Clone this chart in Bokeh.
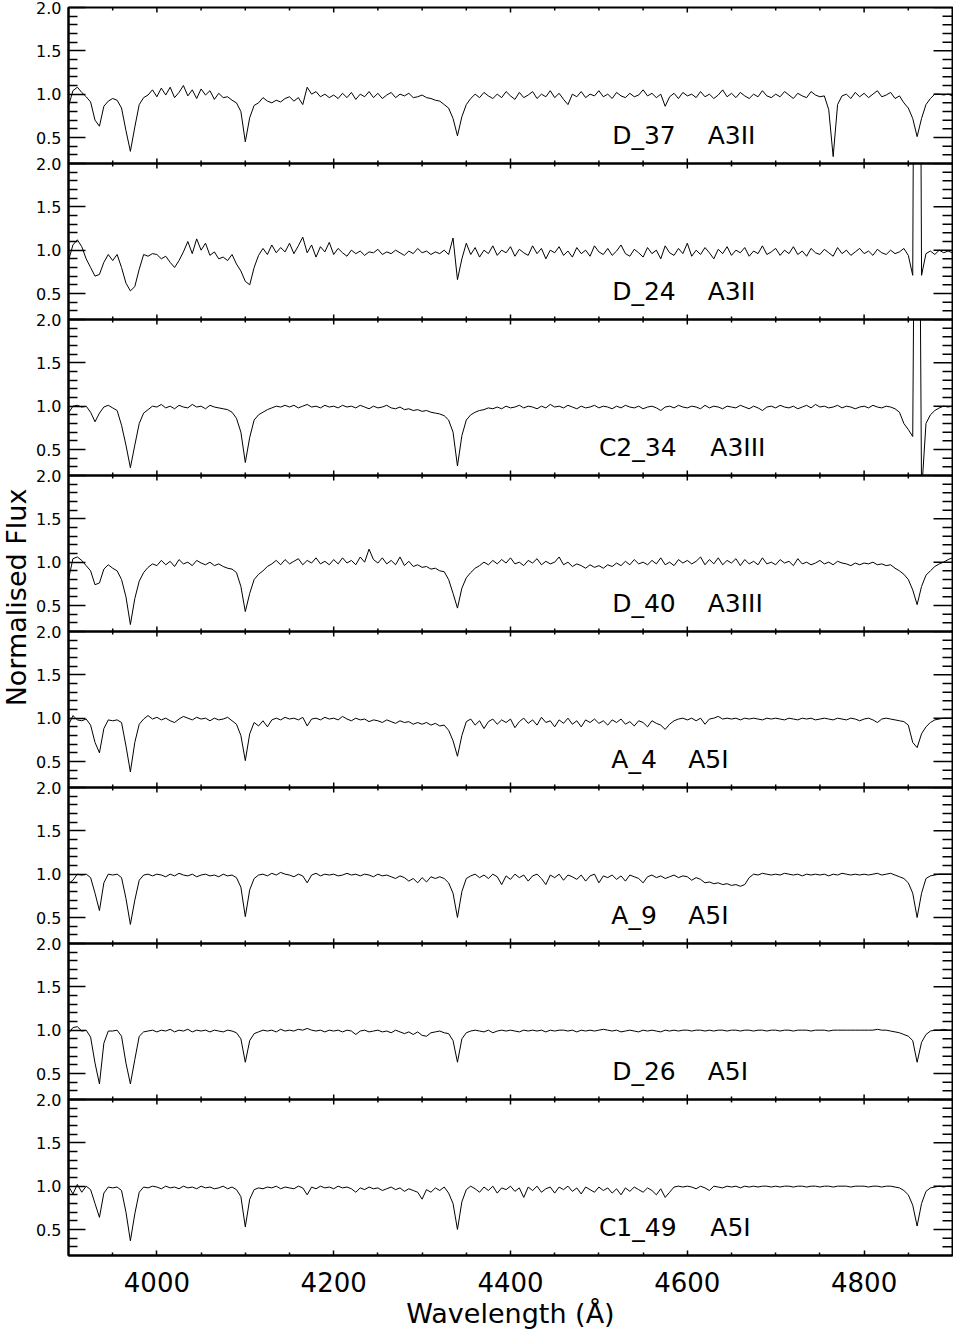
import math
from bokeh.plotting import figure
from bokeh.layouts import column, row
from bokeh.models import Range1d, LinearAxis, FixedTicker, Label, PrintfTickFormatter
from bokeh.core.properties import value
from bokeh.embed import file_html
from bokeh.resources import INLINE

# wavelength grid (Angstrom), one sample every 5 A
wave = list(range(3900, 4901, 5))

flux_D37 = [
    0.86, 1.04, 1.08, 1.02, 0.97, 0.91, 0.70, 0.63, 0.86, 0.92,
    0.95, 0.93, 0.84, 0.58, 0.34, 0.62, 0.88, 0.96, 0.99, 1.05,
    0.97, 1.07, 0.99, 1.08, 0.96, 1.02, 1.10, 0.98, 1.05, 0.95,
    1.06, 0.99, 1.04, 0.94, 1.01, 0.96, 0.97, 0.93, 0.90, 0.80,
    0.45, 0.73, 0.87, 0.90, 0.96, 0.92, 0.90, 0.93, 0.91, 0.95,
    0.97, 0.92, 0.96, 0.88, 1.08, 1.00, 1.03, 0.97, 1.00, 0.96,
    0.99, 0.95, 1.01, 0.96, 1.02, 0.94, 1.00, 0.97, 1.03, 0.96,
    1.01, 0.95, 0.99, 1.02, 0.96, 1.00, 0.98, 1.01, 0.96, 0.97,
    0.99, 0.96, 0.95, 0.93, 0.92, 0.88, 0.84, 0.72, 0.52, 0.74,
    0.88, 0.95, 1.00, 0.96, 1.02, 0.98, 0.95, 1.00, 0.96, 1.03,
    0.98, 0.94, 1.02, 0.96, 0.99, 1.03, 0.95, 1.00, 0.97, 1.04,
    0.96, 1.01, 0.94, 0.88, 1.00, 0.97, 1.03, 0.96, 1.00, 0.98,
    1.04, 0.97, 1.00, 0.95, 1.02, 0.98, 0.96, 1.01, 0.97, 0.99,
    1.05, 0.98, 1.01, 0.96, 1.00, 0.86, 0.97, 1.01, 0.95, 1.02,
    0.98, 1.00, 0.96, 1.03, 0.97, 1.00, 0.95, 0.99, 1.05, 0.97,
    1.01, 0.96, 1.02, 0.98, 0.95, 1.00, 0.97, 1.04, 0.98, 0.96,
    1.00, 0.97, 1.03, 0.99, 0.95, 1.01, 0.98, 0.96, 1.03, 0.99,
    0.97, 0.98, 0.82, 0.28, 0.88, 0.98, 1.00, 0.95, 1.02, 0.97,
    1.01, 0.96, 1.00, 1.04, 0.97, 0.99, 1.02, 0.95, 0.98, 0.90,
    0.84, 0.72, 0.51, 0.72, 0.88, 0.95, 1.00, 1.00, 0.99, 1.00,
    0.98,
]

flux_D24 = [
    0.88, 1.06, 1.12, 1.04, 0.90, 0.80, 0.70, 0.72, 0.86, 0.95,
    0.88, 0.95, 0.80, 0.62, 0.53, 0.58, 0.78, 0.95, 0.93, 0.96,
    0.95, 0.90, 0.93, 0.86, 0.80, 0.88, 0.98, 1.10, 0.96, 1.13,
    1.00, 1.08, 0.94, 0.98, 0.90, 0.92, 0.88, 0.95, 0.84, 0.76,
    0.64, 0.60, 0.80, 0.94, 1.02, 0.95, 1.06, 0.97, 1.03, 0.98,
    1.08, 0.96, 1.05, 1.15, 0.97, 1.06, 0.92, 1.04, 0.98, 1.09,
    0.95, 1.02, 0.97, 0.93, 1.00, 0.96, 0.99, 0.94, 0.98, 0.97,
    1.01, 0.95, 0.98, 0.96, 1.00, 0.97, 0.94, 0.99, 0.96, 1.02,
    0.97, 0.99, 0.95, 0.98, 0.96, 1.00, 0.95, 1.14, 0.66, 0.90,
    1.08, 0.95, 1.03, 0.92, 1.00, 0.96, 1.05, 0.94, 1.00, 0.97,
    1.04, 0.93, 1.01, 0.97, 0.94, 1.05, 0.96, 1.02, 0.90, 1.00,
    0.97, 1.04, 0.94, 0.99, 0.92, 1.03, 0.96, 1.00, 0.93, 1.05,
    0.98, 0.95, 1.02, 0.94, 0.99, 1.06, 0.96, 0.93, 1.01, 0.97,
    0.92, 1.03, 0.96, 1.00, 0.90, 1.05, 0.97, 0.94, 1.02, 0.96,
    1.08, 0.93, 1.00, 0.95, 1.03, 0.97, 0.90, 1.01, 0.96, 1.04,
    0.94, 1.00, 0.97, 1.03, 0.93, 0.99, 0.96, 1.05, 0.95, 0.98,
    1.02, 0.94, 1.00, 0.96, 1.04, 0.95, 0.99, 0.93, 1.02, 0.97,
    0.95, 1.01, 0.97, 0.93, 1.03, 0.96, 1.00, 0.94, 0.98, 1.02,
    0.96, 0.99, 0.94, 1.01, 0.97, 0.95, 1.00, 0.96, 0.98, 1.02,
    0.94, 0.71, 12.0, 0.71, 0.96, 0.99, 0.95, 1.00, 0.97, 0.99,
    0.97,
]

flux_C234 = [
    0.92, 1.00, 1.01, 0.99, 1.00, 0.93, 0.82, 0.92, 0.99, 1.01,
    0.98, 0.95, 0.78, 0.55, 0.29, 0.55, 0.80, 0.92, 0.96, 1.00,
    0.99, 1.02, 0.98, 1.00, 0.97, 1.01, 0.99, 0.98, 1.02, 0.99,
    1.00, 0.97, 1.01, 0.99, 0.98, 0.97, 0.96, 0.93, 0.86, 0.70,
    0.35, 0.64, 0.84, 0.90, 0.93, 0.96, 0.98, 1.00, 0.99, 1.01,
    0.99, 1.01, 0.98, 1.00, 1.02, 0.99, 1.00, 0.98, 1.01, 0.99,
    1.00, 0.98, 1.01, 0.99, 1.00, 0.98, 1.01, 0.99, 0.97, 1.00,
    0.98, 0.99, 1.01, 0.98, 0.97, 0.99, 0.96, 0.97, 0.95, 0.96,
    0.94, 0.95, 0.93, 0.92, 0.91, 0.89, 0.84, 0.70, 0.31, 0.66,
    0.84, 0.90, 0.93, 0.95, 0.96, 0.98, 0.97, 0.99, 0.97, 1.00,
    0.98, 0.99, 1.01, 0.98, 1.00, 0.99, 0.97, 1.00, 0.98, 1.02,
    0.99, 1.00, 0.98, 1.01, 0.99, 0.97, 1.00, 0.98, 0.99, 1.01,
    0.98, 1.00, 0.99, 0.97, 1.00, 0.98, 1.01, 0.99, 0.98, 1.00,
    0.97, 0.99, 1.00, 0.98, 0.95, 0.99, 1.00, 0.98, 1.01, 0.99,
    0.98, 1.00, 0.99, 0.97, 1.01, 0.98, 1.00, 0.99, 0.97, 1.00,
    0.99, 0.98, 1.01, 0.99, 0.97, 1.00, 0.98, 0.95, 0.99, 1.00,
    0.98, 1.01, 0.99, 0.98, 1.00, 0.97, 0.99, 1.01, 0.98, 1.02,
    0.99, 1.00, 0.98, 0.99, 1.01, 0.98, 1.00, 0.99, 0.97, 0.99,
    1.00, 0.98, 1.01, 0.99, 0.98, 1.00, 0.99, 0.97, 0.93, 0.80,
    0.73, 0.65, 8.0, 0.0, 0.80, 0.90, 0.95, 0.98, 1.00, 0.99,
    1.00,
]

flux_D40 = [
    0.80, 1.04, 1.06, 1.02, 0.96, 0.90, 0.74, 0.76, 0.92, 0.97,
    0.93, 0.90, 0.80, 0.60, 0.28, 0.58, 0.78, 0.88, 0.94, 0.98,
    0.96, 1.02, 0.97, 1.01, 0.95, 1.03, 0.98, 1.00, 0.96, 1.02,
    0.99, 0.97, 1.00, 0.96, 0.98, 0.95, 0.93, 0.92, 0.88, 0.72,
    0.43, 0.64, 0.80, 0.86, 0.90, 0.95, 0.98, 1.02, 0.97, 1.03,
    0.98, 1.01, 1.04, 0.97, 1.02, 0.99, 1.05, 0.98, 1.01, 0.97,
    1.03, 0.98, 1.05, 0.99, 1.02, 0.97, 1.06, 1.00, 1.15, 1.03,
    0.99, 1.05, 0.98, 1.02, 0.97, 1.06, 0.96, 1.01, 0.95, 0.97,
    0.94, 0.95, 0.92, 0.93, 0.90, 0.89, 0.80, 0.64, 0.47, 0.70,
    0.82, 0.88, 0.93, 0.96, 1.00, 0.97, 1.02, 0.98, 1.03, 0.99,
    1.05, 0.98, 1.00, 0.96, 1.02, 0.99, 1.04, 0.97, 1.01, 0.98,
    1.00, 1.06, 0.97, 1.00, 0.95, 0.98, 0.96, 0.93, 0.97, 0.94,
    0.96, 0.93, 0.97, 0.95, 0.99, 0.96, 1.01, 0.97, 1.03, 0.98,
    1.00, 0.97, 1.02, 0.98, 1.05, 0.97, 1.00, 0.96, 1.03, 0.99,
    1.02, 0.98, 1.01, 1.06, 0.97, 1.03, 0.98, 1.05, 0.97, 1.02,
    0.99, 1.04, 0.96, 1.03, 0.98, 1.01, 0.97, 1.05, 0.98, 1.00,
    0.97, 1.03, 0.99, 1.01, 0.96, 1.04, 0.98, 1.00, 0.97, 0.99,
    1.02, 0.98, 1.00, 0.97, 1.01, 0.99, 0.98, 0.96, 0.99, 0.97,
    0.99, 0.98, 1.00, 0.97, 0.98, 0.96, 0.97, 0.93, 0.90, 0.86,
    0.80, 0.68, 0.51, 0.72, 0.85, 0.90, 0.95, 0.98, 1.00, 1.03,
    1.05,
]

flux_A4 = [
    0.92, 1.03, 0.98, 0.97, 0.99, 0.92, 0.72, 0.60, 0.88, 0.98,
    0.97, 0.98, 0.95, 0.68, 0.38, 0.72, 0.93, 0.99, 1.03, 0.99,
    1.01, 0.98, 1.00, 0.97, 0.95, 0.99, 1.02, 1.00, 0.98, 1.01,
    0.99, 1.00, 0.97, 1.00, 0.98, 0.99, 1.01, 0.97, 0.93, 0.80,
    0.51, 0.82, 0.95, 0.91, 0.97, 0.90, 0.98, 1.00, 0.98, 1.01,
    0.99, 1.00, 0.98, 1.01, 0.91, 0.99, 1.00, 0.98, 1.01, 0.99,
    1.00, 0.98, 1.02, 0.99, 0.97, 1.00, 0.98, 0.99, 0.96, 0.98,
    0.97, 0.95, 0.98, 0.96, 0.94, 0.97, 0.95, 0.96, 0.93, 0.95,
    0.93, 0.95, 0.92, 0.94, 0.91, 0.92, 0.86, 0.74, 0.56, 0.80,
    0.96, 0.99, 0.92, 0.97, 0.88, 0.96, 0.99, 0.93, 0.98, 0.95,
    0.99, 0.89, 0.96, 1.00, 0.94, 0.98, 0.92, 1.01, 0.95, 0.97,
    0.90, 0.98, 0.94, 1.00, 0.93, 0.97, 0.90, 0.98, 0.95, 0.99,
    0.94, 0.97, 0.92, 0.98, 0.95, 0.99, 0.93, 0.96, 0.91, 0.97,
    0.95, 0.90, 0.97, 0.94, 0.92, 0.87, 0.93, 0.97, 0.99, 1.00,
    0.98, 1.00, 0.97, 1.00, 0.93, 0.99, 1.00, 1.02, 0.99, 1.00,
    0.99, 1.00, 0.98, 1.00, 0.99, 1.00, 0.99, 0.98, 1.00, 0.99,
    1.00, 0.99, 0.98, 1.00, 0.99, 0.98, 1.00, 0.99, 1.00, 0.98,
    0.99, 1.00, 0.99, 0.98, 1.00, 0.99, 0.98, 1.00, 0.99, 0.97,
    0.99, 1.00, 0.98, 0.95, 0.99, 1.00, 0.99, 0.98, 0.97, 0.96,
    0.92, 0.72, 0.66, 0.82, 0.90, 0.95, 0.98, 0.99, 1.00, 1.00,
    1.00,
]

flux_A9 = [
    0.89, 0.93, 1.00, 0.99, 1.00, 0.96, 0.78, 0.58, 0.90, 1.00,
    0.99, 1.00, 0.96, 0.72, 0.42, 0.70, 0.93, 0.99, 1.00, 0.98,
    1.00, 0.99, 0.97, 1.00, 0.98, 1.01, 0.99, 0.98, 1.00, 0.97,
    0.99, 1.00, 0.98, 0.99, 0.97, 1.00, 0.98, 0.99, 0.96, 0.85,
    0.51, 0.82, 0.95, 0.99, 1.00, 0.98, 1.01, 0.99, 1.02, 1.00,
    0.99, 0.97, 1.00, 0.98, 0.90, 0.99, 1.01, 0.98, 1.00, 0.99,
    1.00, 0.98, 0.99, 1.01, 0.99, 1.00, 0.98, 1.00, 0.99, 0.97,
    1.00, 0.98, 0.99, 0.97, 0.95, 0.98, 0.96, 0.92, 0.95, 0.90,
    0.96, 0.91, 0.97, 0.95, 0.97, 0.95, 0.90, 0.78, 0.50, 0.80,
    0.95, 0.98, 1.00, 0.96, 0.99, 0.95, 1.00, 0.97, 0.88, 0.98,
    0.94, 1.00, 0.96, 0.99, 0.92, 0.98, 1.00, 0.95, 0.88, 0.99,
    0.96, 1.00, 0.93, 0.99, 0.97, 0.94, 0.99, 0.92, 0.98, 1.00,
    0.90, 0.98, 0.96, 0.99, 0.94, 0.98, 0.92, 0.99, 0.97, 0.95,
    0.90, 0.97, 0.99, 0.96, 0.98, 0.95, 0.97, 0.99, 0.96, 0.98,
    0.97, 0.93, 0.96, 0.94, 0.90, 0.91, 0.89, 0.90, 0.88, 0.89,
    0.87, 0.88, 0.86, 0.88, 0.96, 1.00, 0.99, 1.01, 1.00, 0.99,
    1.00, 0.99, 1.01, 1.00, 0.99, 1.00, 0.98, 1.00, 0.99, 1.00,
    0.99, 1.00, 0.98, 1.00, 0.99, 1.01, 1.00, 0.99, 1.00, 0.99,
    1.00, 0.99, 1.00, 1.01, 0.99, 1.00, 1.01, 0.99, 0.97, 0.95,
    0.90, 0.78, 0.50, 0.78, 0.95, 0.98, 0.99, 1.00, 1.00, 1.00,
    1.00,
]

flux_D26 = [
    0.96, 1.03, 1.04, 0.99, 1.00, 0.92, 0.62, 0.38, 0.85, 0.99,
    0.99, 1.00, 0.93, 0.62, 0.38, 0.66, 0.93, 0.98, 0.99, 1.00,
    0.98, 1.00, 0.99, 1.01, 0.98, 1.00, 0.99, 1.01, 0.98, 1.00,
    0.99, 1.00, 0.98, 1.00, 0.99, 0.98, 1.00, 0.99, 0.97, 0.90,
    0.63, 0.88, 0.96, 0.98, 1.00, 0.99, 1.00, 0.98, 1.01, 0.99,
    1.00, 0.99, 1.01, 1.00, 1.02, 1.00, 0.99, 1.00, 0.98, 1.00,
    0.99, 1.00, 0.98, 1.00, 0.99, 0.95, 0.99, 1.00, 0.98, 0.99,
    1.00, 0.98, 0.99, 0.97, 1.00, 0.98, 0.96, 0.98, 0.95, 0.98,
    0.94, 0.93, 0.97, 0.98, 0.99, 0.97, 0.96, 0.88, 0.63, 0.90,
    0.97, 0.99, 1.00, 0.99, 0.98, 1.00, 0.97, 0.99, 1.00, 0.99,
    1.00, 0.99, 0.98, 1.00, 0.99, 1.00, 0.99, 1.00, 0.98, 1.00,
    0.99, 1.00, 1.00, 0.99, 1.00, 0.98, 1.00, 0.99, 1.00, 0.99,
    1.00, 1.01, 1.00, 0.99, 1.00, 0.98, 0.99, 1.00, 0.99, 0.98,
    1.00, 0.99, 1.00, 0.99, 0.98, 1.00, 0.99, 1.00, 0.99, 1.00,
    1.00, 0.99, 1.00, 1.00, 0.99, 1.00, 0.99, 1.00, 1.00, 0.99,
    1.00, 1.00, 0.99, 1.00, 1.00, 0.99, 1.00, 1.00, 0.99, 1.00,
    1.00, 0.99, 1.00, 1.00, 0.99, 1.00, 1.00, 1.00, 0.99, 1.00,
    1.00, 1.00, 0.99, 1.00, 1.00, 1.00, 1.00, 1.00, 1.00, 1.00,
    1.00, 1.00, 1.00, 1.01, 1.00, 1.00, 0.99, 0.98, 0.97, 0.95,
    0.93, 0.88, 0.63, 0.86, 0.95, 0.99, 1.00, 1.00, 1.01, 1.00,
    1.00,
]

flux_C149 = [
    1.00, 0.91, 1.02, 0.93, 1.00, 0.96, 0.80, 0.64, 0.92, 0.99,
    0.98, 0.99, 0.95, 0.70, 0.37, 0.68, 0.93, 0.99, 0.98, 1.00,
    0.99, 0.97, 1.00, 0.98, 0.99, 0.97, 1.00, 0.98, 0.99, 0.97,
    1.00, 0.98, 0.99, 0.97, 0.98, 1.00, 0.97, 0.99, 0.96, 0.88,
    0.53, 0.85, 0.96, 0.98, 0.97, 0.99, 0.98, 1.00, 0.97, 0.99,
    0.98, 0.97, 1.00, 0.98, 0.90, 0.99, 0.97, 1.00, 0.98, 0.99,
    0.97, 1.00, 0.98, 0.99, 0.97, 0.93, 0.98, 0.96, 0.99, 0.97,
    0.98, 0.95, 0.97, 0.99, 0.96, 0.98, 0.94, 0.97, 0.95, 0.93,
    0.85, 0.96, 0.93, 0.98, 0.95, 0.99, 0.92, 0.80, 0.50, 0.82,
    0.96, 1.00, 0.97, 0.93, 0.99, 0.95, 1.00, 0.92, 0.98, 0.96,
    1.00, 0.94, 0.98, 0.87, 0.99, 0.95, 1.00, 0.93, 0.97, 0.99,
    0.92, 0.99, 0.96, 1.00, 0.94, 0.98, 0.91, 0.99, 0.96, 0.93,
    0.99, 0.95, 0.98, 0.92, 0.97, 0.90, 0.98, 0.94, 0.99, 0.96,
    0.93, 0.98, 0.95, 0.90, 0.97, 0.87, 0.93, 0.99, 1.00, 0.99,
    1.00, 0.99, 0.97, 1.00, 0.98, 0.95, 1.00, 0.99, 0.98, 1.00,
    0.99, 1.00, 0.98, 1.00, 0.99, 1.00, 0.99, 1.00, 1.00, 0.99,
    1.00, 0.99, 1.00, 1.00, 0.99, 1.00, 1.00, 0.99, 1.00, 1.00,
    0.99, 1.00, 1.00, 0.99, 1.00, 1.00, 1.00, 0.99, 1.00, 1.00,
    1.00, 0.99, 1.00, 1.00, 0.99, 1.00, 1.00, 0.99, 0.98, 0.95,
    0.90, 0.78, 0.54, 0.80, 0.94, 0.98, 0.99, 1.00, 0.99, 1.00,
    1.00,
]

spectra = [flux_D37, flux_D24, flux_C234, flux_D40, flux_A4, flux_A9, flux_D26, flux_C149]
star_names = ["D_37", "D_24", "C2_34", "D_40", "A_4", "A_9", "D_26", "C1_49"]
spec_types = ["A3II", "A3II", "A3III", "A3III", "A5I", "A5I", "A5I", "A5I"]

y_major = [0.5, 1.0, 1.5, 2.0]
y_minor = [0.3, 0.4, 0.6, 0.7, 0.8, 0.9, 1.1, 1.2, 1.3, 1.4, 1.6, 1.7, 1.8, 1.9]
x_major = [4000, 4200, 4400, 4600, 4800]
x_minor = [3950, 4050, 4100, 4150, 4250, 4300, 4350, 4450, 4500, 4550, 4650, 4700, 4750, 4850]

X_LO, X_HI = 3900, 4900
Y_LO, Y_HI = 0.2, 2.0

# label placement (layout, not data)
name_x = [4515, 4515, 4500, 4515, 4514, 4514, 4515, 4500]
type_x = [4623, 4623, 4626, 4623, 4601, 4601, 4623, 4626]
label_y = 0.525

FONT = "DejaVu Sans"
TITLE_W = 32
LEFT = 36
FW, FH = 884, 156
TOP1, MID, BOT = 7, 9, 78
N = len(spectra)
TOTAL_H = TOP1 + N * FH + BOT


def tick_rays(p, xs, ys, angle, length):
    p.ray(x=xs, y=ys, length=length, length_units="screen", angle=angle,
          line_color="black", line_width=1.5)


panels = []
for i in range(N):
    first = i == 0
    last = i == N - 1
    p = figure(frame_width=FW, frame_height=FH,
               x_range=Range1d(X_LO, X_HI), y_range=Range1d(Y_LO, Y_HI),
               output_backend="svg", toolbar_location=None,
               x_axis_location=None, y_axis_location=None,
               min_border_left=LEFT, min_border_right=1,
               min_border_top=TOP1 if first else MID,
               min_border_bottom=BOT if last else MID,
               background_fill_alpha=0, border_fill_alpha=0,
               outline_line_color="black", outline_line_width=2)
    p.grid.visible = False
    if not first:
        p.margin = (-2 * MID, 0, 0, 0)

    # left axis with labels, ticks pointing inwards
    yl = LinearAxis(ticker=FixedTicker(ticks=y_major, minor_ticks=y_minor),
                    formatter=PrintfTickFormatter(format="%.1f"))
    yl.axis_line_width = 2
    yl.major_tick_line_width = 1.5
    yl.minor_tick_line_width = 1.5
    yl.major_tick_in, yl.major_tick_out = 17, 0
    yl.minor_tick_in, yl.minor_tick_out = 9, 0
    yl.major_label_text_font = FONT
    yl.major_label_text_font_size = "16px"
    yl.major_label_text_color = "black"
    yl.major_label_standoff = 7
    p.add_layout(yl, "left")

    # tick marks on the other three sides
    tick_rays(p, y_major and [X_HI] * len(y_major), y_major, math.pi, 19)
    tick_rays(p, [X_HI] * len(y_minor), y_minor, math.pi, 10)
    tick_rays(p, x_major, [Y_HI] * len(x_major), -math.pi / 2, 5)
    tick_rays(p, x_minor, [Y_HI] * len(x_minor), -math.pi / 2, 3)

    if last:
        xb = LinearAxis(ticker=FixedTicker(ticks=x_major, minor_ticks=x_minor),
                        formatter=PrintfTickFormatter(format="%d"))
        xb.axis_line_width = 2
        xb.major_tick_line_width = 1.5
        xb.minor_tick_line_width = 1.5
        xb.major_tick_in, xb.major_tick_out = 5, 0
        xb.minor_tick_in, xb.minor_tick_out = 3, 0
        xb.major_label_text_font = FONT
        xb.major_label_text_font_size = "26px"
        xb.major_label_text_color = "black"
        xb.major_label_standoff = 16
        xb.axis_label = "Wavelength (\u00c5)"
        xb.axis_label_text_font = FONT
        xb.axis_label_text_font_size = "27px"
        xb.axis_label_text_font_style = "normal"
        xb.axis_label_text_color = "black"
        xb.axis_label_standoff = 3
        p.add_layout(xb, "below")
    else:
        tick_rays(p, x_major, [Y_LO] * len(x_major), math.pi / 2, 5)
        tick_rays(p, x_minor, [Y_LO] * len(x_minor), math.pi / 2, 3)

    p.line(wave, spectra[i], line_color="black", line_width=1)
    p.text(x=[name_x[i]], y=[label_y], text=[star_names[i]],
           text_font=value(FONT), text_font_size="25px",
           text_baseline="alphabetic", text_align="left", text_color="black")
    p.text(x=[type_x[i]], y=[label_y], text=[spec_types[i]],
           text_font=value(FONT), text_font_size="25px",
           text_baseline="alphabetic", text_align="left", text_color="black")
    panels.append(p)

title_fig = figure(width=TITLE_W, height=TOTAL_H,
                   x_range=Range1d(0, TITLE_W), y_range=Range1d(0, TOTAL_H),
                   output_backend="svg", toolbar_location=None,
                   x_axis_location=None, y_axis_location=None,
                   min_border=0, outline_line_color=None,
                   background_fill_alpha=0, border_fill_alpha=0)
title_fig.grid.visible = False
title_fig.add_layout(Label(x=TITLE_W / 2, y=TOTAL_H - 597, text="Normalised Flux",
                           angle=math.pi / 2, text_font=FONT, text_font_size="27px",
                           text_align="center", text_baseline="middle",
                           text_color="black"))

layout = row(title_fig, column(*panels, spacing=0), spacing=0)

open("out.html", "w").write(file_html(layout, INLINE))
